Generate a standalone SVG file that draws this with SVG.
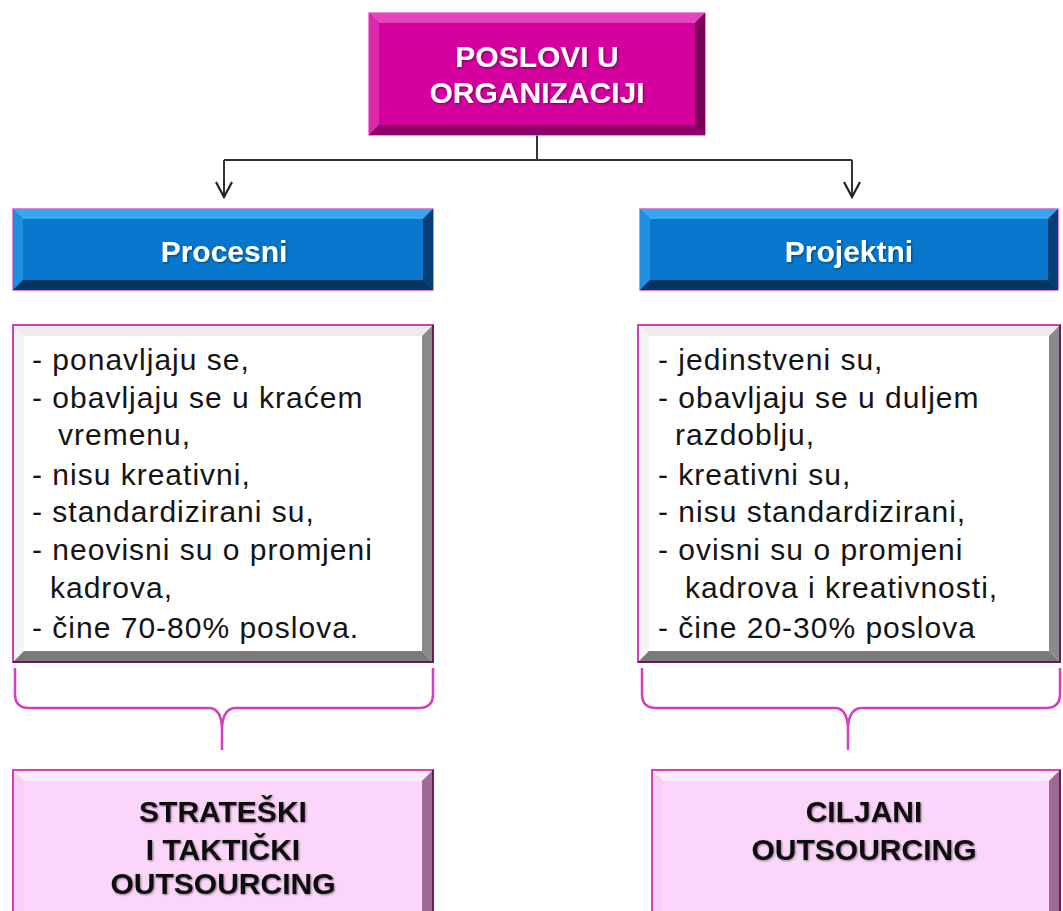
<svg xmlns="http://www.w3.org/2000/svg" width="1063" height="911" viewBox="0 0 1063 911">
<defs>
<style>
.t{font-family:"Liberation Sans",Arial,sans-serif;}
.body{font-size:30px;letter-spacing:1px;fill:#141414;}
.bold{font-weight:bold;font-size:30px;text-anchor:middle;}
.conn{fill:none;stroke:#333;stroke-width:2;}
.brace{fill:none;stroke:#d63cbf;stroke-width:2.5;}
</style>
<marker id="arr" viewBox="0 0 20 20" refX="18" refY="10" markerWidth="20" markerHeight="20" markerUnits="userSpaceOnUse" orient="auto">
<path d="M3,2 L18,10 L3,18" fill="none" stroke="#222" stroke-width="2.2"/>
</marker>
<filter id="sh" x="-5%" y="-5%" width="110%" height="110%">
<feDropShadow dx="1" dy="1" stdDeviation="0.8" flood-color="#000" flood-opacity="0.45"/>
</filter>
</defs>
<rect width="1063" height="911" fill="#fff"/>

<g id="connectors">
<path class="conn" d="M537,135 V160 M224,160 H852"/>
<path class="conn" d="M224,160 V197" marker-end="url(#arr)"/>
<path class="conn" d="M852,160 V197" marker-end="url(#arr)"/>
<path class="brace" d="M15,668 V694 Q15,708 29,708 H209 Q221,708 222,728 V750 M222,728 Q223,708 236,708 H419 Q433,708 433,694 V668"/>
<path class="brace" d="M642,668 V694 Q642,708 656,708 H835 Q847,708 848,728 V750 M848,728 Q849,708 862,708 H1046 Q1060,708 1060,694 V668"/>
</g>

<g id="node-top">
<rect x="369" y="13" width="336" height="122" fill="#d3009d" stroke="#e86cc8" stroke-width="1.5"/>
<polygon points="369,13 705,13 695,23 379,23" fill="#e544bd"/>
<polygon points="369,13 379,23 379,125 369,135" fill="#dc28ad"/>
<polygon points="705,13 705,135 695,125 695,23" fill="#7a0059"/>
<polygon points="369,135 705,135 695,125 379,125" fill="#8c0067"/>
<text class="t bold" x="537" y="67" fill="#fff" filter="url(#sh)">POSLOVI U</text>
<text class="t bold" x="537" y="103" fill="#fff" filter="url(#sh)">ORGANIZACIJI</text>
</g>

<g id="node-procesni">
<rect x="13" y="209" width="420" height="81" fill="#0677cc" stroke="#d060c0" stroke-width="1.5"/>
<polygon points="13,209 433,209 423,219 23,219" fill="#3aa6f2"/>
<polygon points="13,209 23,219 23,280 13,290" fill="#1f8ee0"/>
<polygon points="433,209 433,290 423,280 423,219" fill="#053e72"/>
<polygon points="13,290 433,290 423,280 23,280" fill="#063461"/>
<text class="t bold" x="224" y="262" fill="#fff" filter="url(#sh)">Procesni</text>
</g>

<g id="node-projektni">
<rect x="640" y="209" width="418" height="81" fill="#0677cc" stroke="#d060c0" stroke-width="1.5"/>
<polygon points="640,209 1058,209 1048,219 650,219" fill="#3aa6f2"/>
<polygon points="640,209 650,219 650,280 640,290" fill="#1f8ee0"/>
<polygon points="1058,209 1058,290 1048,280 1048,219" fill="#053e72"/>
<polygon points="640,290 1058,290 1048,280 650,280" fill="#063461"/>
<text class="t bold" x="849" y="262" fill="#fff" filter="url(#sh)">Projektni</text>
</g>

<g id="node-procesni-list">
<rect x="13" y="325" width="420" height="337" fill="#fff" stroke="#cc40b8" stroke-width="2"/>
<polygon points="14,326 432,326 422,336 24,336" fill="#ececec"/>
<polygon points="14,326 24,336 24,651 14,661" fill="#f4f4f4"/>
<polygon points="432,326 432,661 422,651 422,336" fill="#8a8a8a"/>
<polygon points="14,661 432,661 422,651 24,651" fill="#7a7a7a"/>
<path d="M433,325 V662 H13" fill="none" stroke="#6a1a5c" stroke-width="2"/>
<text class="t body" x="32" y="370">- ponavljaju se,</text>
<text class="t body" x="32" y="408">- obavljaju se u kraćem</text>
<text class="t body" x="58" y="445">vremenu,</text>
<text class="t body" x="32" y="485">- nisu kreativni,</text>
<text class="t body" x="32" y="522">- standardizirani su,</text>
<text class="t body" x="32" y="560">- neovisni su o promjeni</text>
<text class="t body" x="50" y="598">kadrova,</text>
<text class="t body" x="32" y="638">- čine 70-80% poslova.</text>
</g>

<g id="node-projektni-list">
<rect x="638" y="325" width="422" height="337" fill="#fff" stroke="#cc40b8" stroke-width="2"/>
<polygon points="639,326 1059,326 1049,336 649,336" fill="#ececec"/>
<polygon points="639,326 649,336 649,651 639,661" fill="#f4f4f4"/>
<polygon points="1059,326 1059,661 1049,651 1049,336" fill="#8a8a8a"/>
<polygon points="639,661 1059,661 1049,651 649,651" fill="#7a7a7a"/>
<path d="M1060,325 V662 H638" fill="none" stroke="#6a1a5c" stroke-width="2"/>
<text class="t body" x="658" y="370">- jedinstveni su,</text>
<text class="t body" x="658" y="408">- obavljaju se u duljem</text>
<text class="t body" x="675" y="445">razdoblju,</text>
<text class="t body" x="658" y="485">- kreativni su,</text>
<text class="t body" x="658" y="522">- nisu standardizirani,</text>
<text class="t body" x="658" y="560">- ovisni su o promjeni</text>
<text class="t body" x="685" y="598">kadrova i kreativnosti,</text>
<text class="t body" x="658" y="638">- čine 20-30% poslova</text>
</g>

<g id="node-strateski">
<rect x="13" y="770" width="420" height="150" fill="#fcd6fa" stroke="#d840c0" stroke-width="2"/>
<polygon points="14,771 432,771 422,781 24,781" fill="#fde9fc"/>
<polygon points="14,771 24,781 24,911 14,911" fill="#f8d0f5"/>
<polygon points="432,771 432,911 422,911 422,781" fill="#9c6a94"/>
<path d="M433,770 V911" fill="none" stroke="#6a1a5c" stroke-width="2"/>
<text class="t bold" x="223" y="822" fill="#111" filter="url(#sh)">STRATEŠKI</text>
<text class="t bold" x="223" y="860" fill="#111" filter="url(#sh)">I TAKTIČKI</text>
<text class="t bold" x="223" y="894" fill="#111" filter="url(#sh)">OUTSOURCING</text>
</g>

<g id="node-ciljani">
<rect x="652" y="770" width="408" height="150" fill="#fcd6fa" stroke="#d840c0" stroke-width="2"/>
<polygon points="653,771 1059,771 1049,781 663,781" fill="#fde9fc"/>
<polygon points="653,771 663,781 663,911 653,911" fill="#f8d0f5"/>
<polygon points="1059,771 1059,911 1049,911 1049,781" fill="#9c6a94"/>
<path d="M1060,770 V911" fill="none" stroke="#6a1a5c" stroke-width="2"/>
<text class="t bold" x="864" y="822" fill="#111" filter="url(#sh)">CILJANI</text>
<text class="t bold" x="864" y="860" fill="#111" filter="url(#sh)">OUTSOURCING</text>
</g>
</svg>
